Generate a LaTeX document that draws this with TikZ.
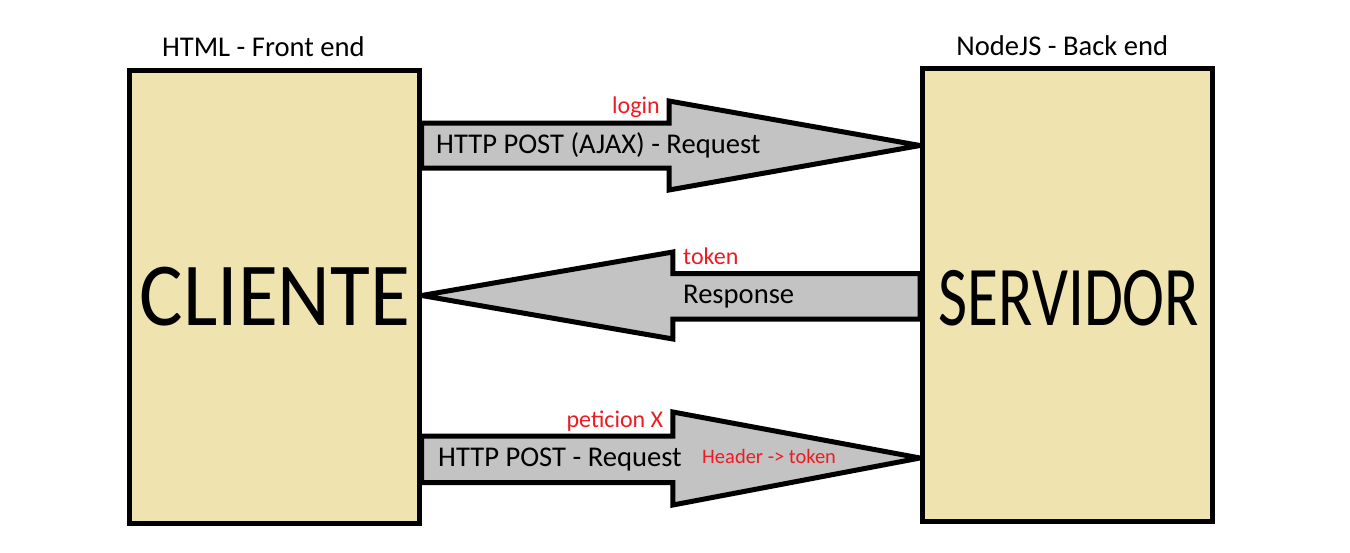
\documentclass[tikz,border=0pt]{standalone}
\usepackage{fontspec}
\setmainfont{Carlito}
\usetikzlibrary{calc}
\definecolor{boxfill}{RGB}{239,228,176}
\definecolor{arrowgray}{RGB}{195,195,195}
\definecolor{paintred}{RGB}{237,28,36}
\pgfdeclarelayer{background}
\pgfsetlayers{background,main}
\tikzset{
  bigbox/.style={draw=black, line width=5pt, fill=boxfill, rectangle, inner sep=0pt},
  fatarrow/.style={draw=black, line width=5pt, fill=arrowgray, line join=miter},
  toplabel/.style={font=\fontsize{28.6}{32}\selectfont, anchor=base, inner sep=0pt},
  arrowtext/.style={font=\fontsize{28.6}{32}\selectfont, anchor=base west, inner sep=0pt},
  redtext/.style={font=\fontsize{24}{28}\selectfont, text=paintred, inner sep=0pt},
  smallred/.style={font=\fontsize{20.5}{24}\selectfont, text=paintred, anchor=base west, inner sep=0pt},
}
\begin{document}
\begin{tikzpicture}[x=1pt, y=-1pt]
\useasboundingbox (0,0) rectangle (1350,552);
\begin{pgfonlayer}{background}
\fill[white] (0,0) rectangle (1350,552);
\end{pgfonlayer}

\node[bigbox, minimum width=289.4pt, minimum height=452.4pt] (cli) at (274.5,297) {};
\node[bigbox, minimum width=290pt, minimum height=452.7pt] (srv) at (1067.5,294.9) {};

\node[font=\fontsize{90}{100}\selectfont, anchor=base, inner sep=0pt, xscale=0.906] (clitext) at (274.9,325) {CLIENTE};
\node[font=\fontsize{85}{95}\selectfont, anchor=base, inner sep=0pt, xscale=0.744] (srvtext) at (1069,325) {SERVIDOR};

\node[toplabel] (html) at (263.4,56.7) {HTML - Front end};
\node[toplabel] (nodejs) at (1062.3,55) {NodeJS - Back end};

\begin{pgfonlayer}{background}
% arrow 1: request
\coordinate (a1tip) at (srv.west |- 0,145.5);
\draw[fatarrow] (cli.east |- 0,123) -- (669,123) -- (669,101) -- (a1tip)
  -- (669,190) -- (669,168) -- (cli.east |- 0,168) -- cycle;
% arrow 2: response
\coordinate (a2tip) at (cli.east |- 0,295.5);
\draw[fatarrow] (srv.west |- 0,273.6) -- (672.9,273.6) -- (672.9,252) -- (a2tip)
  -- (672.9,339) -- (672.9,319) -- (srv.west |- 0,319) -- cycle;
% arrow 3: peticion X
\coordinate (a3tip) at (srv.west |- 0,458);
\draw[fatarrow] (cli.east |- 0,436) -- (672.9,436) -- (672.9,412) -- (a3tip)
  -- (672.9,505) -- (672.9,482.6) -- (cli.east |- 0,482.6) -- cycle;
\end{pgfonlayer}

\node[arrowtext] (req1) at (436,153.3) {HTTP POST (AJAX) - Request};
\node[redtext, anchor=base east] (login) at (660,113.4) {login};

\node[arrowtext] (resp) at (683,303.7) {Response};
\node[redtext, anchor=base west] (token) at (683,264.8) {token};

\node[arrowtext] (req2) at (438,466) {HTTP POST - Request};
\node[redtext, anchor=base east] (pet) at (663.4,427.5) {peticion X};
\node[smallred] (hdr) at (702,463.7) {Header -> token};
\end{tikzpicture}
\end{document}
